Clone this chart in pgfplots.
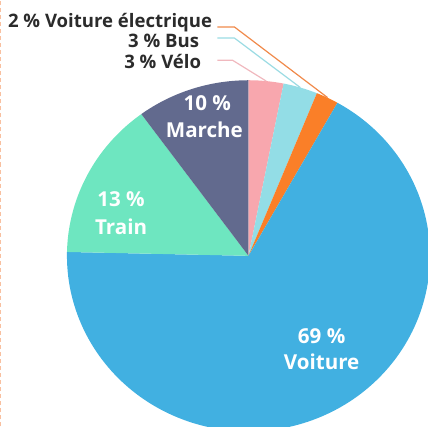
\documentclass[border=0pt]{standalone}
\usepackage{pgfplots}
\pgfplotsset{compat=1.18}
\usepackage{fontspec}
\setmainfont{Open Sans}
\definecolor{cVoiture}{HTML}{41B0E1}
\definecolor{cTrain}{HTML}{6EE6C0}
\definecolor{cMarche}{HTML}{626A8E}
\definecolor{cVelo}{HTML}{F8A7AE}
\definecolor{cBus}{HTML}{93DDE6}
\definecolor{cVE}{HTML}{FA7F28}
\definecolor{lVE}{HTML}{F08A4B}
\definecolor{lBus}{HTML}{9ADBE3}
\definecolor{lVelo}{HTML}{F0B8BE}
\definecolor{cDash}{HTML}{F8C0A0}
\definecolor{cText}{HTML}{2B2B2B}
% shares in percent (clockwise from 12 o'clock)
\def\pVelo{3.1}
\def\pBus{3.05}
\def\pVE{2.0}
\def\pVoiture{67.2}
\def\pTrain{14.6}
\def\pMarche{10.05}
\begin{document}
\begin{tikzpicture}
\pgfmathsetmacro{\aA}{90}
\pgfmathsetmacro{\aB}{\aA-3.6*\pVelo}
\pgfmathsetmacro{\aC}{\aB-3.6*\pBus}
\pgfmathsetmacro{\aD}{\aC-3.6*\pVE}
\pgfmathsetmacro{\aE}{\aD-3.6*\pVoiture}
\pgfmathsetmacro{\aF}{\aE-3.6*\pTrain}
\pgfmathsetmacro{\aG}{\aF-3.6*\pMarche}
\begin{axis}[scale only axis, width=428bp, height=425bp,
  xmin=-1.376, xmax=0.989, ymin=-0.971, ymax=1.457,
  hide axis, clip=true]
\addplot[draw=none, fill=cVelo, domain=\aB:\aA, samples=20] ({cos(x)},{sin(x)}) -- (0,0) -- cycle;
\addplot[draw=none, fill=cBus, domain=\aC:\aB, samples=20] ({cos(x)},{sin(x)}) -- (0,0) -- cycle;
\addplot[draw=none, fill=cVE, domain=\aD:\aC, samples=20] ({cos(x)},{sin(x)}) -- (0,0) -- cycle;
\addplot[draw=none, fill=cVoiture, domain=\aE:\aD, samples=150] ({cos(x)},{sin(x)}) -- (0,0) -- cycle;
\addplot[draw=none, fill=cTrain, domain=\aF:\aE, samples=40] ({cos(x)},{sin(x)}) -- (0,0) -- cycle;
\addplot[draw=none, fill=cMarche, domain=\aG:\aF, samples=40] ({cos(x)},{sin(x)}) -- (0,0) -- cycle;
% leader lines
\addplot[lVE, line width=1.2bp] coordinates {(-0.171,1.303) (-0.077,1.303) (0.436,0.901)};
\addplot[lBus, line width=1.2bp] coordinates {(-0.171,1.240) (-0.077,1.240) (0.286,0.958)};
\addplot[lVelo, line width=1.2bp] coordinates {(-0.171,1.114) (-0.088,1.114) (0.098,0.995)};
% dashed frame line at left
\addplot[cDash, line width=1bp, dash pattern=on 4bp off 3bp] coordinates {(-1.366,-0.971) (-1.366,1.457)};
% outside labels
\node[anchor=base east, font=\bfseries\fontsize{18.5bp}{22bp}\selectfont, text=cText, inner sep=0pt] at (-0.199,1.303) {2~\% Voiture électrique};
\node[anchor=base east, font=\bfseries\fontsize{18.5bp}{22bp}\selectfont, text=cText, inner sep=0pt] at (-0.271,1.189) {3~\% Bus};
\node[anchor=base east, font=\bfseries\fontsize{18.5bp}{22bp}\selectfont, text=cText, inner sep=0pt] at (-0.260,1.069) {3~\% Vélo};
% slice labels
\node[anchor=base, font=\bfseries\fontsize{20.5bp}{24bp}\selectfont, text=white, inner sep=0pt] at (-0.227,0.829) {10~\%};
\node[anchor=base, font=\bfseries\fontsize{20.5bp}{24bp}\selectfont, text=white, inner sep=0pt] at (-0.243,0.674) {Marche};
\node[anchor=base, font=\bfseries\fontsize{20.5bp}{24bp}\selectfont, text=white, inner sep=0pt] at (-0.702,0.280) {13~\%};
\node[anchor=base, font=\bfseries\fontsize{20.5bp}{24bp}\selectfont, text=white, inner sep=0pt] at (-0.702,0.120) {Train};
\node[anchor=base, font=\bfseries\fontsize{20.5bp}{24bp}\selectfont, text=white, inner sep=0pt] at (0.403,-0.497) {69~\%};
\node[anchor=base, font=\bfseries\fontsize{20.5bp}{24bp}\selectfont, text=white, inner sep=0pt] at (0.403,-0.646) {Voiture};
\end{axis}
\end{tikzpicture}
\end{document}
